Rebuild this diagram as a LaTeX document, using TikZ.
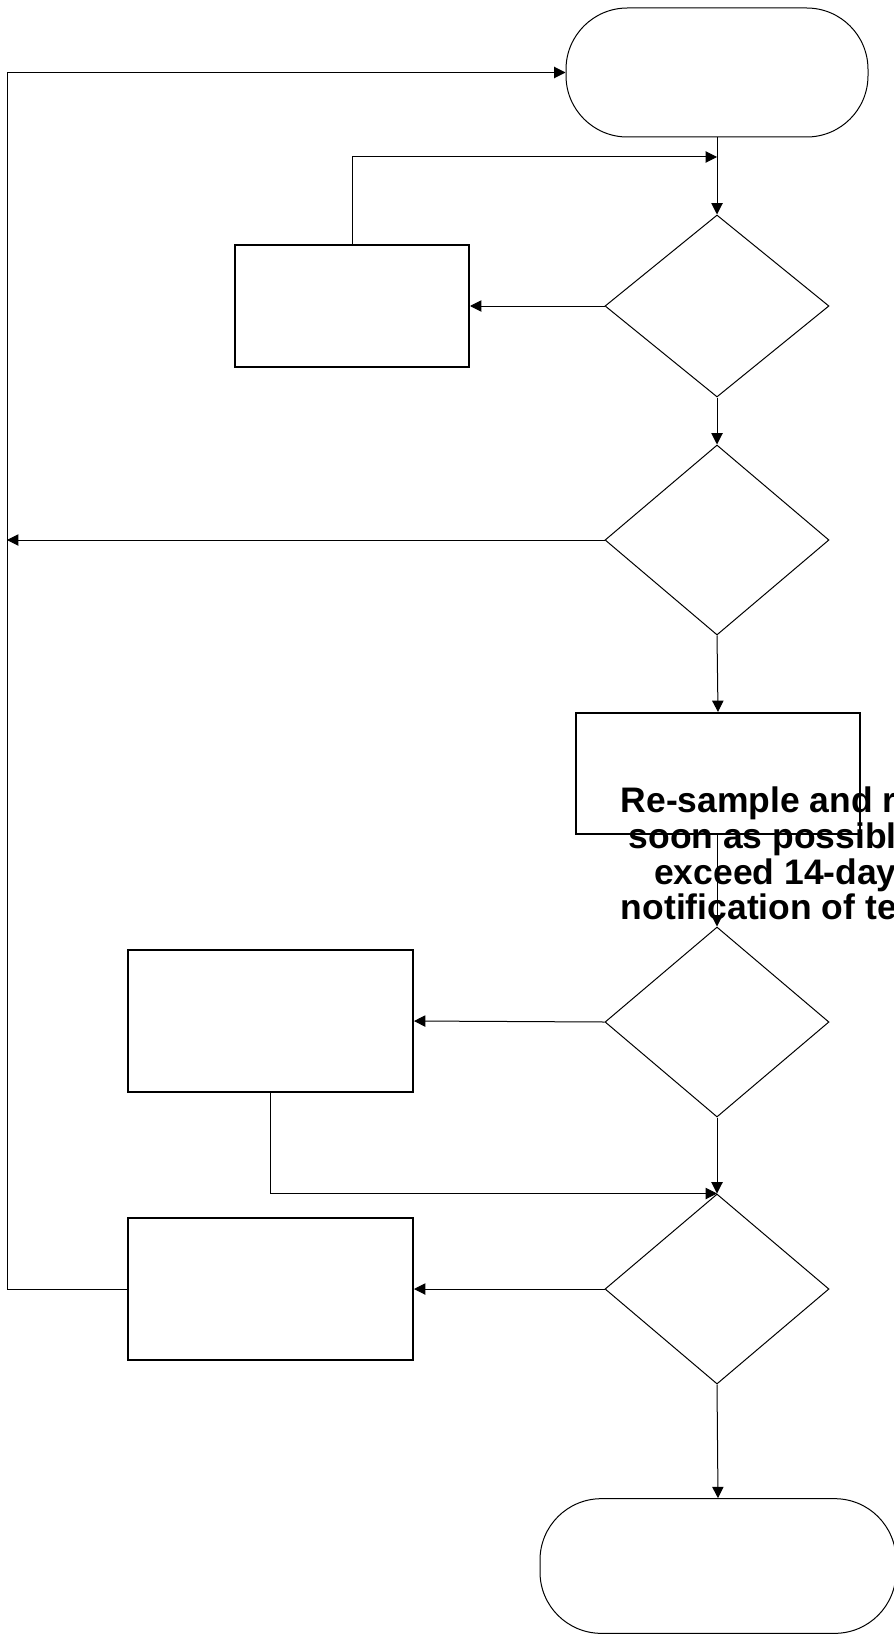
\documentclass[tikz,border=0pt]{standalone}
\usepackage{fontspec}
\usepackage{tikz}
\usetikzlibrary{shapes.geometric,arrows.meta}
\newfontfamily\boxFont{Liberation Sans}
\newcommand{\chartUnit}{0.75pt}
\newcommand{\noteSize}{\fontsize{26.6pt}{26.7pt}\selectfont}

\begin{document}
\begin{tikzpicture}[x=\chartUnit, y=-\chartUnit,
      flowLine/.style={line width=0.75pt, -{Triangle[length=8.5pt,width=8.5pt]}},
      plainLine/.style={line width=0.75pt},
      terminal/.style={draw, line width=0.75pt, rectangle, rounded corners=46pt, inner sep=0pt},
      decision/.style={draw, line width=0.75pt, diamond, inner sep=0pt, minimum width=168pt, minimum height=142.5pt},
      process/.style={draw, line width=1.5pt, rectangle, inner sep=0pt}]
   \useasboundingbox (0,0) rectangle (893,1634);

   \node (startNode) [terminal, minimum width=226.5pt, minimum height=96.75pt] at (717,72.5) {};
   \node (checkOne) [decision, minimum height=136.5pt] at (717,306) {};
   \node (actOne) [process, minimum width=175.5pt, minimum height=91.5pt] at (352,306) {};
   \node (checkTwo) [decision] at (717,540) {};
   \node (reSample) [process, minimum width=213pt, minimum height=90.75pt] at (718,773.5) {};
   \node (reSampleText) [anchor=north east, inner sep=0pt, align=right,
      font=\boxFont\bfseries\noteSize] at (897,787)
      {Re-sample and r\\soon as possibl\\exceed 14-day\\notification of te};
   \node (checkThree) [decision] at (717,1022) {};
   \node (actThree) [process, minimum width=213.75pt, minimum height=106.5pt] at (270.5,1021) {};
   \node (checkFour) [decision] at (717,1289) {};
   \node (actFour) [process, minimum width=213.75pt, minimum height=106.5pt] at (270.5,1289) {};
   \node (finishNode) [terminal, minimum width=267pt, minimum height=101pt] at (718,1566) {};

   \coordinate (joinTop) at (717,157);
   \coordinate (railMid) at (7,540);
   \coordinate (railLow) at (7,1289);

   \draw[flowLine] (startNode.south) -- (checkOne.north);
   \draw[flowLine] (actOne.north) |- (joinTop);
   \draw[flowLine] (checkOne.west) -- (actOne.east);
   \draw[flowLine] (checkOne.south) -- (checkTwo.north);
   \draw[flowLine] (checkTwo.west) -- (railMid);
   \draw[flowLine] (checkTwo.south) -- (reSample.north);
   \draw[flowLine] (reSample.south -| checkThree.north) -- (checkThree.north);
   \draw[flowLine] (checkThree.west) -- (actThree.east);
   \draw[flowLine] (checkThree.south) -- (checkFour.north);
   \draw[flowLine] (actThree.south) |- (checkFour.north);
   \draw[flowLine] (checkFour.west) -- (actFour.east);
   \draw[plainLine] (actFour.west) -- (railLow);
   \draw[flowLine] (railLow) |- (startNode.west);
   \draw[flowLine] (checkFour.south) -- (finishNode.north);
\end{tikzpicture}
\end{document}
